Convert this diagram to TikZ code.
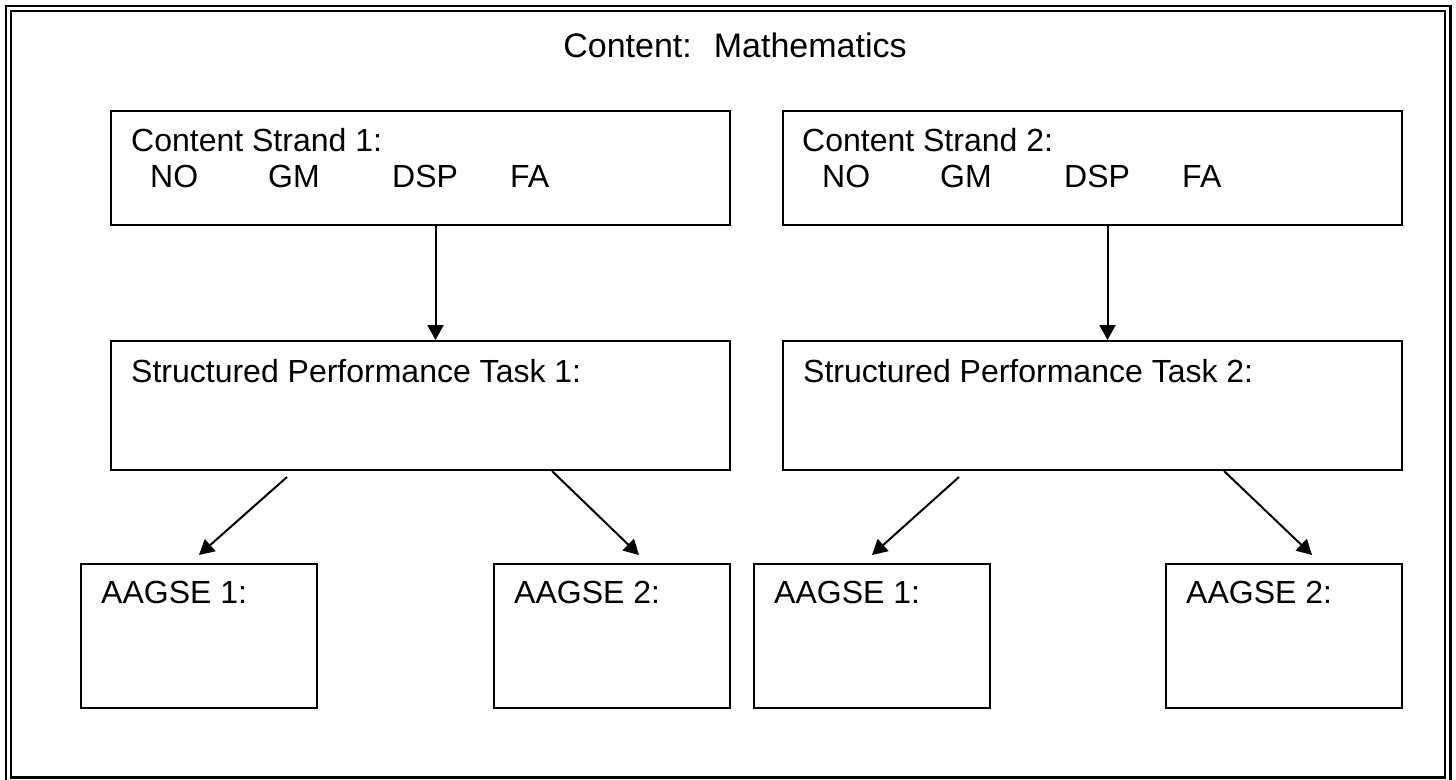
\documentclass[tikz,border=0pt]{standalone}
\usepackage{fontspec}
\setmainfont{Liberation Sans}
\usetikzlibrary{arrows.meta}
\begin{document}
\begin{tikzpicture}[x=1pt,y=-1pt,
  frame/.style={line width=2.4pt},
  box/.style={draw, line width=2pt, inner sep=0pt, anchor=north west},
  lbl/.style={anchor=base west, inner sep=0pt, font=\fontsize{32}{38}\selectfont},
  ttl/.style={anchor=base, inner sep=0pt, font=\fontsize{34}{40}\selectfont},
  arr/.style={line width=2pt, -{Triangle[length=15pt,width=16pt]}}]
\clip (0,0) rectangle (1456,779);
\fill[white] (0,0) rectangle (1456,779);
% double frame
\draw[frame] (6,6) rectangle (1450.5,784);
\draw[frame] (11,11) rectangle (1445,777.5);
% title
\node[ttl] (title) at (735,57) {Content:~ Mathematics};
% boxes
\node[box, minimum width=619pt, minimum height=114pt] (s1) at (110,110) {};
\node[box, minimum width=619pt, minimum height=114pt] (s2) at (782,110) {};
\node[box, minimum width=619pt, minimum height=129pt] (p1) at (110,340) {};
\node[box, minimum width=619pt, minimum height=129pt] (p2) at (782,340) {};
\node[box, minimum width=236pt, minimum height=144pt] (a1) at (80,563) {};
\node[box, minimum width=236pt, minimum height=144pt] (a2) at (493,563) {};
\node[box, minimum width=236pt, minimum height=144pt] (a3) at (753,563) {};
\node[box, minimum width=236pt, minimum height=144pt] (a4) at (1165,563) {};
% strand texts
\node[lbl] (s1t) at (131,151) {Content Strand 1:};
\node[lbl] (s1a) at (150,187) {NO};
\node[lbl] (s1b) at (268,187) {GM};
\node[lbl] (s1c) at (392,187) {DSP};
\node[lbl] (s1d) at (510,187) {FA};
\node[lbl] (s2t) at (802,151) {Content Strand 2:};
\node[lbl] (s2a) at (822,187) {NO};
\node[lbl] (s2b) at (940,187) {GM};
\node[lbl] (s2c) at (1064,187) {DSP};
\node[lbl] (s2d) at (1182,187) {FA};
% task texts
\node[lbl] (p1t) at (131,382) {Structured Performance Task 1:};
\node[lbl] (p2t) at (803,382) {Structured Performance Task 2:};
% AAGSE texts
\node[lbl] (a1t) at (101,603) {AAGSE 1:};
\node[lbl] (a2t) at (514,603) {AAGSE 2:};
\node[lbl] (a3t) at (774,603) {AAGSE 1:};
\node[lbl] (a4t) at (1186,603) {AAGSE 2:};
% arrows
\draw[arr] ([xshift=15pt]s1.south) -- ([xshift=15pt]p1.north);
\draw[arr] ([xshift=15pt]s2.south) -- ([xshift=15pt]p2.north);
\draw[arr] ([xshift=177pt,yshift=-6pt]p1.south west) -- ([yshift=8pt]a1.north);
\draw[arr] ([xshift=442pt]p1.south west) -- ([xshift=146pt,yshift=8pt]a2.north west);
\draw[arr] ([xshift=177pt,yshift=-6pt]p2.south west) -- ([yshift=8pt]a3.north);
\draw[arr] ([xshift=442pt]p2.south west) -- ([xshift=147pt,yshift=8pt]a4.north west);
\end{tikzpicture}
\end{document}
